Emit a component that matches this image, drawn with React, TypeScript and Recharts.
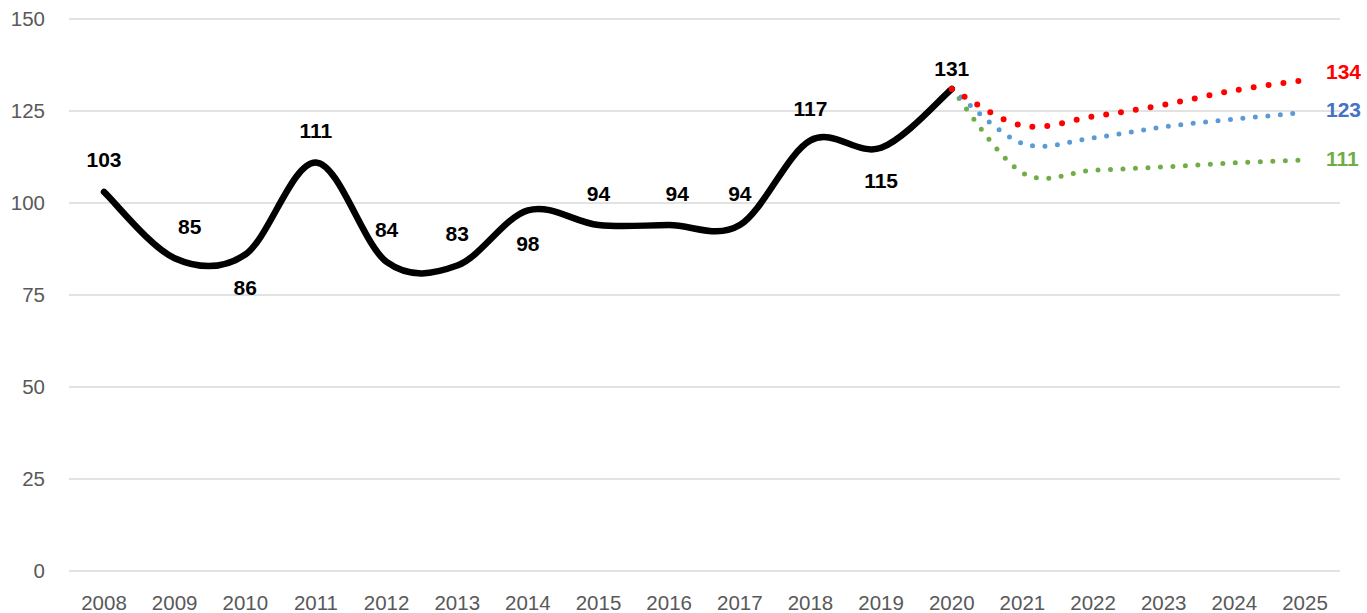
import { LineChart, Line, XAxis, YAxis, CartesianGrid } from 'recharts'

const YEARS = ['2008', '2009', '2010', '2011', '2012', '2013', '2014', '2015', '2016',
  '2017', '2018', '2019', '2020', '2021', '2022', '2023', '2024', '2025']
const ACTUAL = [103, 85, 86, 111, 84, 83, 98, 94, 94, 94, 117, 115, 131, null, null, null, null, null]
const HIGH = [null, null, null, null, null, null, null, null, null, null, null, null, 131, 121, 123.5, 126.7, 130.6, 133.4]
const MID = [null, null, null, null, null, null, null, null, null, null, null, null, 131, 116.2, 117.7, 120.7, 122.8, 124.6]
const LOW = [null, null, null, null, null, null, null, null, null, null, null, null, 131, 108.2, 108.9, 109.8, 110.9, 111.7]
const END_TEXT = { high: '134', mid: '123', low: '111' }
const Y_TICKS = [0, 25, 50, 75, 100, 125, 150]

// where the black data labels sit, keyed by year
const BELOW = ['2010', '2014', '2019']
const NUDGE: Record<string, [number, number]> = { '2009': [15, 0], '2016': [8, 0], '2020': [0, 12] }

const data = YEARS.map((year, i) => ({
  year,
  actual: ACTUAL[i],
  high: HIGH[i],
  mid: MID[i],
  low: LOW[i],
}))

const FONT = '"Liberation Sans", Arial, sans-serif'

// Excel-like smoothing: catmull-rom through every point
function smoothCurve(context: any) {
  let pts: number[][] = []
  return {
    areaStart() {},
    areaEnd() {},
    lineStart() { pts = [] },
    point(x: number, y: number) { pts.push([+x, +y]) },
    lineEnd() {
      if (!pts.length) return
      context.moveTo(pts[0][0], pts[0][1])
      for (let i = 0; i < pts.length - 1; i++) {
        const p0 = pts[i - 1] || pts[i]
        const p1 = pts[i]
        const p2 = pts[i + 1]
        const p3 = pts[i + 2] || p2
        context.bezierCurveTo(
          p1[0] + (p2[0] - p0[0]) / 6, p1[1] + (p2[1] - p0[1]) / 6,
          p2[0] - (p3[0] - p1[0]) / 6, p2[1] - (p3[1] - p1[1]) / 6,
          p2[0], p2[1]
        )
      }
    },
  }
}

function ActualLabel({ x, y, value, index }: any) {
  if (value == null) return null
  const year = YEARS[index]
  const [dx, dy] = NUDGE[year] || [0, 0]
  const off = BELOW.includes(year) ? 33 : -32
  return (
    <text x={x + dx} y={y + off + dy} textAnchor="middle" dominantBaseline="central"
      fontFamily={FONT} fontSize={21} fontWeight="bold" fill="#000">
      {value}
    </text>
  )
}

function endLabel(text: string, color: string, dy: number) {
  return ({ x, y, index }: any) => {
    if (index !== YEARS.length - 1) return null
    return (
      <text x={x + 21} y={y + dy} dominantBaseline="central" fontFamily={FONT}
        fontSize={21} fontWeight="bold" fill={color}>
        {text}
      </text>
    )
  }
}

export default function App() {
  const tick = { fill: '#595959', fontSize: 20.5, fontFamily: FONT }
  return (
    <div style={{ position: 'absolute', left: 0, top: 0, background: '#fff' }}>
      <LineChart width={1367} height={613} data={data} margin={{ top: 19, right: 27, bottom: 12, left: 0 }}>
        <CartesianGrid vertical={false} stroke="#d9d9d9" strokeWidth={1.5} />
        <XAxis dataKey="year" axisLine={false} tickLine={false} tickSize={0} tickMargin={24}
          padding={{ left: 35, right: 35 }} tick={tick} interval={0} height={30} />
        <YAxis domain={[0, 150]} ticks={Y_TICKS} axisLine={false} tickLine={false} tickSize={0}
          tickMargin={24} width={69} tick={tick} />
        <Line dataKey="actual" type={smoothCurve as any} stroke="#000" strokeWidth={6.5}
          strokeLinecap="round" dot={false} activeDot={false} isAnimationActive={false}
          label={ActualLabel} />
        <Line dataKey="low" type={smoothCurve as any} stroke="#70ad47" strokeWidth={5}
          strokeDasharray="0 12.5" strokeLinecap="round" dot={false} activeDot={false}
          isAnimationActive={false} label={endLabel(END_TEXT.low, '#70ad47', -1)} />
        <Line dataKey="mid" type={smoothCurve as any} stroke="#5b9bd5" strokeWidth={5}
          strokeDasharray="0 12.5" strokeLinecap="round" dot={false} activeDot={false}
          isAnimationActive={false} label={endLabel(END_TEXT.mid, '#4472c4', -3)} />
        <Line dataKey="high" type={smoothCurve as any} stroke="#ff0000" strokeWidth={6}
          strokeDasharray="0 15" strokeLinecap="round" dot={false} activeDot={false}
          isAnimationActive={false} label={endLabel(END_TEXT.high, '#ff0000', -9)} />
      </LineChart>
    </div>
  )
}
